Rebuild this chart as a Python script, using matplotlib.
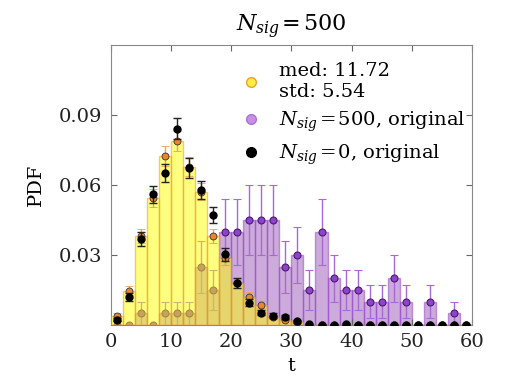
import numpy as np
import matplotlib
matplotlib.use("Agg")
import matplotlib.pyplot as plt
from matplotlib.lines import Line2D

# bin centres (bins of width 2 from 0 to 60)
t = [1, 3, 5, 7, 9, 11, 13, 15, 17, 19, 21, 23, 25, 27, 29,
     31, 33, 35, 37, 39, 41, 43, 45, 47, 49, 51, 53, 55, 57, 59]

# resampled distribution (yellow bars / orange points)
pdf_med = [0.0040, 0.0147, 0.0381, 0.0544, 0.0726, 0.0789, 0.0679, 0.0572, 0.0381, 0.0286,
           0.0178, 0.0122, 0.0087, 0.0035, 0.0021, 0.0012, 0, 0, 0, 0,
           0, 0, 0, 0, 0, 0, 0, 0, 0, 0]
err_med = [0.0010, 0.0019, 0.0031, 0.0037, 0.0043, 0.0044, 0.0041, 0.0038, 0.0031, 0.0027,
           0.0021, 0.0018, 0.0015, 0.0009, 0.0007, 0.0006, 0, 0, 0, 0,
           0, 0, 0, 0, 0, 0, 0, 0, 0, 0]

# N_sig = 500, original (purple)
pdf_500 = [0, 0, 0.005, 0, 0.005, 0.005, 0.005, 0.025, 0.015, 0.040,
           0.040, 0.045, 0.045, 0.045, 0.025, 0.030, 0.015, 0.040, 0.020, 0.015,
           0.015, 0.010, 0.010, 0.020, 0.010, 0, 0.010, 0, 0.005, 0]
err_500 = [0, 0, 0.005, 0, 0.005, 0.005, 0.005, 0.0112, 0.0087, 0.0141,
           0.0141, 0.0150, 0.0150, 0.0150, 0.0112, 0.0122, 0.0087, 0.0141, 0.0100, 0.0087,
           0.0087, 0.0071, 0.0071, 0.0100, 0.0071, 0, 0.0071, 0, 0.005, 0]

# N_sig = 0, original (black)
pdf_0 = [0.0023, 0.0118, 0.0368, 0.0560, 0.0652, 0.0842, 0.0673, 0.0577, 0.0470, 0.0304,
         0.0180, 0.0095, 0.0052, 0.0040, 0.0033, 0.0016, 0.0003, 0.0002, 0.0002, 0.0005,
         0.0002, 0.0002, 0.0002, 0.0002, 0.0002, 0.0002, 0.0002, 0.0002, 0.0002, 0.0002]
err_0 = [0.0008, 0.0017, 0.0030, 0.0037, 0.0040, 0.0046, 0.0041, 0.0038, 0.0034, 0.0028,
         0.0021, 0.0015, 0.0011, 0.0010, 0.0009, 0.0006, 0.0002, 0.0002, 0.0002, 0.0003,
         0.0002, 0.0002, 0.0002, 0.0002, 0.0002, 0.0002, 0.0002, 0.0002, 0.0002, 0.0002]

label_med = "med: 11.72\nstd: 5.54"
label_500 = r"$N_{sig}\hspace{-0.08}=\hspace{-0.08}500$, original"
label_0 = r"$N_{sig}\hspace{-0.08}=\hspace{-0.08}0$, original"
title = r"$N_{sig}\hspace{-0.08}=\hspace{-0.08}500$"

plt.rcParams["font.family"] = "DejaVu Serif"
plt.rcParams["mathtext.fontset"] = "dejavuserif"

fig = plt.figure(figsize=(5.05, 3.81), dpi=100)
ax = fig.add_axes([0.219, 0.147, 0.716, 0.735])

ax.bar(t, pdf_500, width=2, color="#9b59b6", alpha=0.5, edgecolor="#8e3cc8",
       linewidth=1, zorder=1)
ax.errorbar(t, pdf_500, yerr=err_500, fmt="o", ms=5, mfc="#8e44c8", mec="#4a1a70",
            mew=0.8, ecolor="#a868d8", elinewidth=1, capsize=3, zorder=2)

ax.bar(t, pdf_med, width=2, color="#ffff00", alpha=0.5, edgecolor="#f08c20",
       linewidth=1, zorder=3)
ax.errorbar(t, pdf_med, yerr=err_med, fmt="o", ms=5, mfc="#e8862a", mec="#333333",
            mew=0.6, ecolor="#f0a050", elinewidth=1, capsize=3, zorder=4)

ax.errorbar(t, pdf_0, yerr=err_0, fmt="o", ms=5, mfc="black", mec="black",
            ecolor="#222222", elinewidth=1, capsize=3, zorder=5)

ax.set_xlim(0, 60)
ax.set_ylim(0, 0.12)
ax.set_xticks([0, 10, 20, 30, 40, 50, 60])
ax.set_yticks([0.03, 0.06, 0.09])
ax.set_yticklabels(["0.03", "0.06", "0.09"])
ax.tick_params(direction="in", top=True, right=True, length=4, color="#666666",
               labelsize=14, labelcolor="#222222", pad=6)
for s in ax.spines.values():
    s.set_color("#888888")

ax.set_xlabel("t", fontsize=14)
ax.set_ylabel("PDF", fontsize=14, labelpad=10)
ax.set_title(title, fontsize=16, pad=10)

handles = [
    Line2D([], [], ls="", marker="o", ms=7, mfc="#ffee44", mec="#f0a030"),
    Line2D([], [], ls="", marker="o", ms=7, mfc="#c890e0", mec="#b070d8"),
    Line2D([], [], ls="", marker="o", ms=7, mfc="black", mec="black"),
]
ax.legend(handles, [label_med, label_500, label_0], loc="upper left",
          bbox_to_anchor=(0.30, 1.0), frameon=False, fontsize=14,
          handlelength=1.5, handletextpad=0.7, labelspacing=0.45)

fig.savefig("out.png", dpi=100)
